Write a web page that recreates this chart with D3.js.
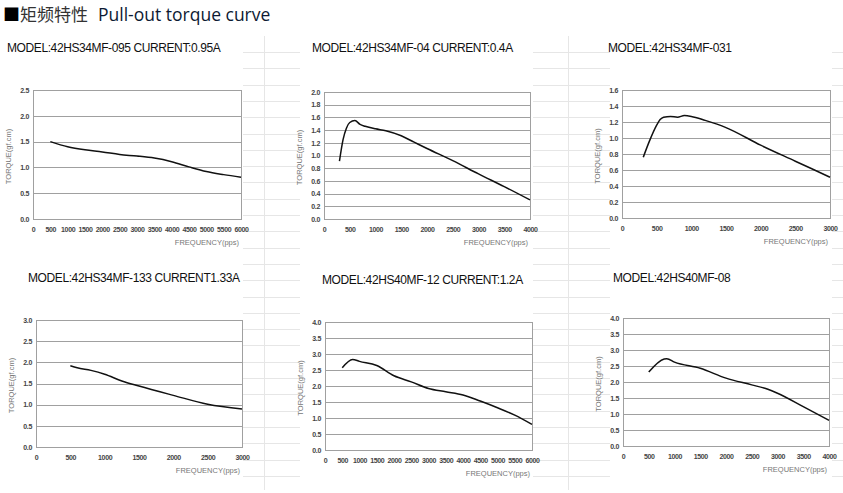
<!DOCTYPE html>
<html>
<head>
<meta charset="utf-8">
<script src="https://cdn.jsdelivr.net/npm/d3@7"></script>
<style>
  body { margin: 0; background: #fff; }
  svg { display: block; }
</style>
</head>
<body>
<div id="chart"></div>
<script>
const width = 843;
const height = 493;

// chart data
const titles = [
    'MODEL:42HS34MF-095 CURRENT:0.95A',
    'MODEL:42HS34MF-04 CURRENT:0.4A',
    'MODEL:42HS34MF-031',
    'MODEL:42HS34MF-133 CURRENT1.33A',
    'MODEL:42HS40MF-12 CURRENT:1.2A',
    'MODEL:42HS40MF-08'
];

const freq_095 = [500, 1000, 1500, 2000, 2500, 3000, 3500, 4000, 4500, 5000, 5500, 6000];
const torque_095 = [1.50, 1.40, 1.34, 1.30, 1.25, 1.22, 1.18, 1.11, 1.01, 0.92, 0.86, 0.81];

const freq_04 = [300, 370, 435, 500, 600, 700, 800, 1000, 1200, 1500, 1750, 2000, 2500, 3000, 3500, 4000];
const torque_04 = [0.91, 1.25, 1.43, 1.52, 1.55, 1.49, 1.46, 1.42, 1.39, 1.31, 1.21, 1.11, 0.92, 0.71, 0.51, 0.30];

const freq_031 = [307, 400, 500, 550, 600, 700, 800, 900, 1000, 1200, 1500, 2000, 2500, 3000];
const torque_031 = [0.76, 0.97, 1.16, 1.23, 1.26, 1.27, 1.26, 1.28, 1.27, 1.22, 1.13, 0.91, 0.71, 0.51];

const freq_133 = [500, 600, 800, 1000, 1250, 1500, 2000, 2500, 3000];
const torque_133 = [1.92, 1.87, 1.81, 1.72, 1.56, 1.44, 1.22, 1.01, 0.90];

const freq_12 = [500, 800, 1000, 1500, 2000, 2500, 3000, 3500, 4000, 4500, 5000, 5500, 6000];
const torque_12 = [2.57, 2.83, 2.77, 2.64, 2.32, 2.13, 1.92, 1.82, 1.72, 1.53, 1.32, 1.09, 0.80];

const freq_08 = [500, 800, 850, 1000, 1500, 2000, 2500, 2800, 3000, 3500, 4000];
const torque_08 = [2.31, 2.72, 2.73, 2.62, 2.43, 2.12, 1.91, 1.78, 1.65, 1.23, 0.80];

const xTicks6000 = d3.range(0, 6001, 500);
const xTicks4000 = d3.range(0, 4001, 500);
const xTicks3000 = d3.range(0, 3001, 500);
const yTicks25 = [0, 0.5, 1.0, 1.5, 2.0, 2.5];
const yTicks20 = [0, 0.2, 0.4, 0.6, 0.8, 1.0, 1.2, 1.4, 1.6, 1.8, 2.0];
const yTicks16 = [0, 0.2, 0.4, 0.6, 0.8, 1.0, 1.2, 1.4, 1.6];
const yTicks30 = [0, 0.5, 1.0, 1.5, 2.0, 2.5, 3.0];
const yTicks40 = [0, 0.5, 1.0, 1.5, 2.0, 2.5, 3.0, 3.5, 4.0];

// layout of each small chart (plot box in page pixels)
const panels = [
    {title: titles[0], tx: 7,   ty: 52,  box: [33, 90, 241, 219],   xs: freq_095, ys: torque_095, xt: xTicks6000, yt: yTicks25},
    {title: titles[1], tx: 312, ty: 52,  box: [324, 92, 530, 219],  xs: freq_04,  ys: torque_04,  xt: xTicks4000, yt: yTicks20},
    {title: titles[2], tx: 608, ty: 52,  box: [622, 90, 830, 218],  xs: freq_031, ys: torque_031, xt: xTicks3000, yt: yTicks16},
    {title: titles[3], tx: 28,  ty: 282, box: [36, 320, 242, 447],  xs: freq_133, ys: torque_133, xt: xTicks3000, yt: yTicks30},
    {title: titles[4], tx: 322, ty: 284, box: [325, 322, 532, 450], xs: freq_12,  ys: torque_12,  xt: xTicks6000, yt: yTicks40},
    {title: titles[5], tx: 613, ty: 282, box: [623, 318, 829, 446], xs: freq_08,  ys: torque_08,  xt: xTicks4000, yt: yTicks40}
];

let svg = d3.select("#chart")
    .append("svg")
    .attr("width", width)
    .attr("height", height);

// faint spreadsheet cell lines behind the charts
const cellColor = '#e6e6e6';
const bg = svg.append("g").attr("stroke", cellColor).attr("stroke-width", 1);
[264, 568].forEach(x => {
    bg.append("line").attr("x1", x + 0.5).attr("x2", x + 0.5).attr("y1", 36).attr("y2", 490);
});
[[243, 300], [533, 610], [832, 843]].forEach(([a, b]) => {
    d3.range(52, 480, 16.3).forEach(y => {
        bg.append("line").attr("x1", a).attr("x2", b)
            .attr("y1", Math.round(y) + 0.5).attr("y2", Math.round(y) + 0.5);
    });
});

// page title
const head = svg.append("text").attr("x", 3).attr("y", 21);
head.append("tspan")
    .attr("font-family", "'Noto Sans CJK SC', sans-serif")
    .attr("font-size", 17)
    .attr("fill", "#000")
    .text("■");
head.append("tspan")
    .attr("font-family", "'Noto Sans CJK SC', sans-serif")
    .attr("font-size", 17)
    .attr("fill", "#333")
    .text("矩频特性");
head.append("tspan")
    .attr("dx", 10)
    .attr("font-family", "'Open Sans', 'Noto Sans', sans-serif")
    .attr("font-size", 17.5)
    .attr("fill", "#0d1a33")
    .text("Pull-out torque curve");

const tickFont = g => g
    .attr("font-family", "'Liberation Sans', Arial, sans-serif")
    .attr("font-size", 7)
    .attr("font-weight", "bold")
    .attr("letter-spacing", -0.35)
    .attr("fill", "#444");

panels.forEach(p => {
    const [x0, y0, x1, y1] = p.box;
    const xMax = p.xt[p.xt.length - 1];
    const yMax = p.yt[p.yt.length - 1];

    let x = d3.scaleLinear().domain([0, xMax]).range([x0, x1]);
    let y = d3.scaleLinear().domain([0, yMax]).range([y1, y0]);

    const g = svg.append("g");

    g.append("text")
        .attr("x", p.tx)
        .attr("y", p.ty)
        .attr("font-family", "'Liberation Sans', Arial, sans-serif")
        .attr("font-size", 12)
        .attr("letter-spacing", -0.4)
        .attr("fill", "#111")
        .text(p.title);

    // horizontal grid
    g.selectAll(".grid")
        .data(p.yt)
        .join("line")
        .attr("x1", x0).attr("x2", x1)
        .attr("y1", d => Math.round(y(d)) + 0.5)
        .attr("y2", d => Math.round(y(d)) + 0.5)
        .attr("stroke", "#a0a0a0")
        .attr("stroke-width", 1);

    g.append("rect")
        .attr("x", x0 + 0.5).attr("y", Math.round(y0) + 0.5)
        .attr("width", x1 - x0).attr("height", Math.round(y1) - Math.round(y0))
        .attr("fill", "none")
        .attr("stroke", "#a0a0a0");

    // y axis labels
    let yAxis = d3.axisLeft(y).tickValues(p.yt).tickSize(0).tickPadding(4)
        .tickFormat(d3.format(".1f"));
    g.append("g")
        .attr("transform", `translate(${x0},0)`)
        .call(yAxis)
        .call(s => s.select(".domain").remove())
        .selectAll("text")
        .call(tickFont);

    // x axis labels
    let xAxis = d3.axisBottom(x).tickValues(p.xt).tickSize(0).tickPadding(8)
        .tickFormat(d3.format("d"));
    g.append("g")
        .attr("transform", `translate(0,${y1})`)
        .call(xAxis)
        .call(s => s.select(".domain").remove())
        .selectAll("text")
        .call(tickFont);

    g.append("text")
        .attr("x", x1 - 2)
        .attr("y", y1 + 26)
        .attr("text-anchor", "end")
        .attr("font-family", "'Liberation Sans', Arial, sans-serif")
        .attr("font-size", 7.5)
        .attr("fill", "#777")
        .text("FREQUENCY(pps)");

    g.append("text")
        .attr("transform", `translate(${x0 - 22},${(y0 + y1) / 2 + 2}) rotate(-90)`)
        .attr("text-anchor", "middle")
        .attr("font-family", "'Liberation Sans', Arial, sans-serif")
        .attr("font-size", 7.5)
        .attr("fill", "#777")
        .text("TORQUE(gf.cm)");

    const pts = p.xs.map((v, i) => [v, p.ys[i]]);
    let line = d3.line()
        .x(d => x(d[0]))
        .y(d => y(d[1]))
        .curve(d3.curveMonotoneX);

    g.append("path")
        .datum(pts)
        .attr("fill", "none")
        .attr("stroke", "#111")
        .attr("stroke-width", 1.5)
        .attr("d", line);
});
</script>
</body>
</html>
